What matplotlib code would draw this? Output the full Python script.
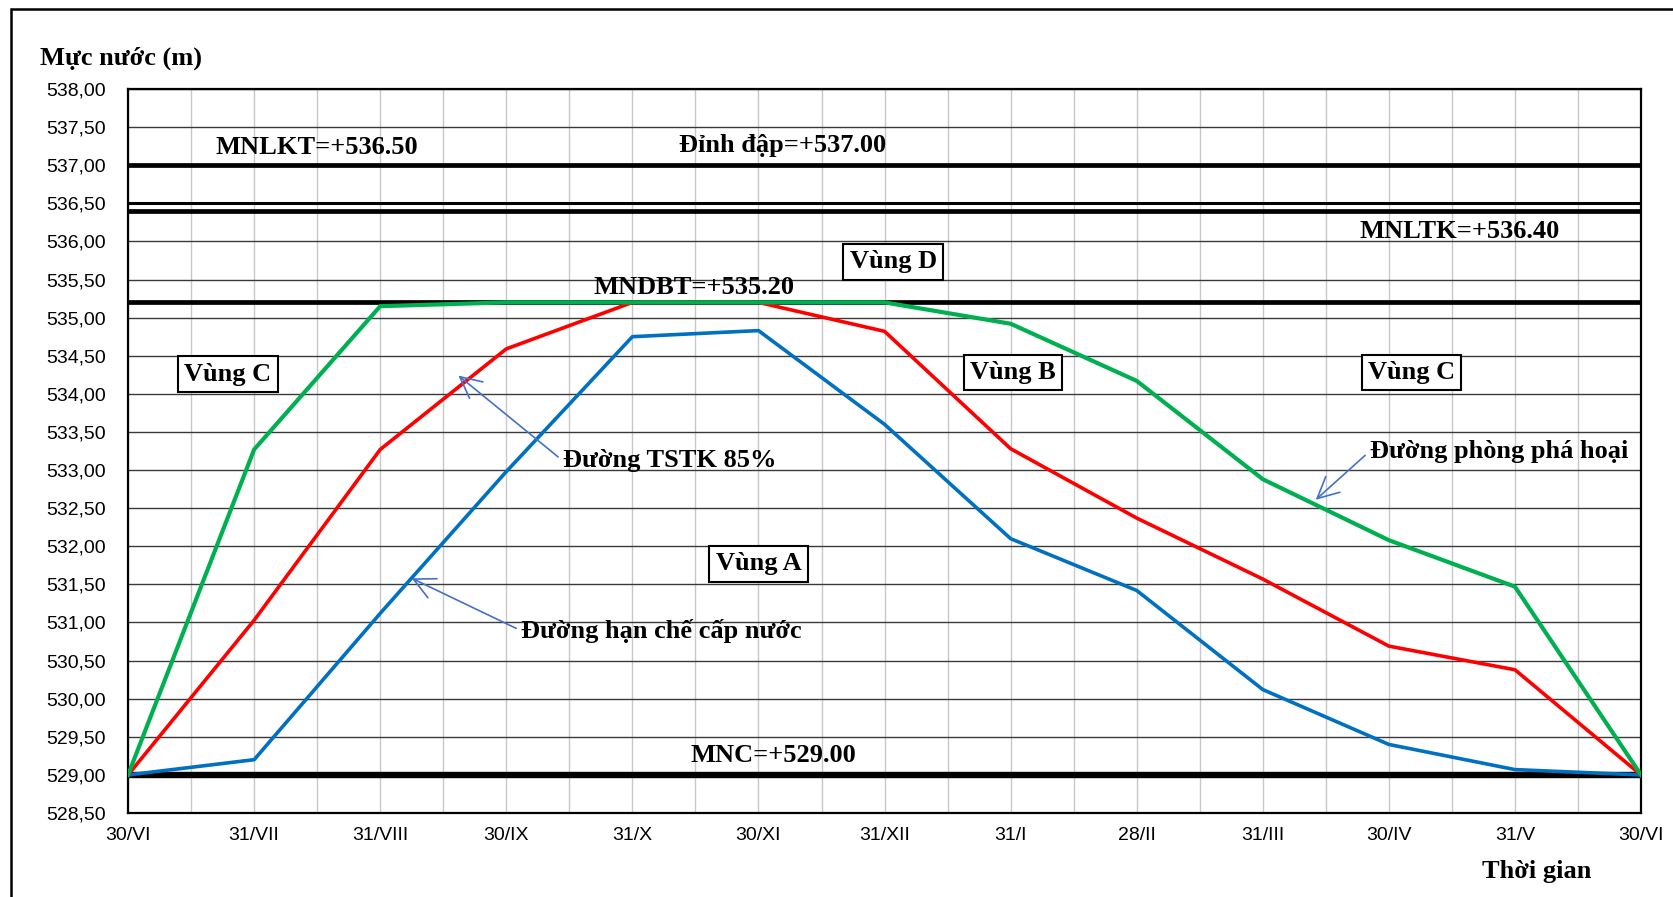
import matplotlib
matplotlib.use("Agg")
import matplotlib.pyplot as plt
from matplotlib.ticker import MultipleLocator, FuncFormatter
from matplotlib.patches import Rectangle

# ---------------- data ----------------
months = ['30/VI', '31/VII', '31/VIII', '30/IX', '31/X', '30/XI', '31/XII',
          '31/I', '28/II', '31/III', '30/IV', '31/V', '30/VI']
phong_pha_hoai = [529.00, 533.27, 535.15, 535.20, 535.20, 535.20, 535.20,
                  534.92, 534.17, 532.88, 532.08, 531.47, 529.00]
tstk_85 = [529.00, 531.03, 533.27, 534.59, 535.20, 535.20, 534.82,
           533.28, 532.37, 531.57, 530.69, 530.38, 529.00]
han_che = [529.00, 529.20, 531.12, 532.98, 534.75, 534.83, 533.60,
           532.10, 531.42, 530.12, 529.40, 529.07, 529.00]
levels = {'dinh_dap': 537.00, 'mnlkt': 536.50, 'mnltk': 536.40,
          'mndbt': 535.20, 'mnc': 529.00}

serif = ['Liberation Serif', 'DejaVu Serif']
sans = ['Liberation Sans', 'DejaVu Sans']

fig = plt.figure(figsize=(16.74, 8.97), dpi=100)
ax = fig.add_axes([0.0765, 0.0936, 0.9803 - 0.0765, 0.9008 - 0.0936])

x = list(range(len(months)))

# grid
ax.set_xlim(0, len(months) - 1)
ax.set_ylim(528.5, 538.0)
ax.xaxis.set_major_locator(MultipleLocator(1))
ax.xaxis.set_minor_locator(MultipleLocator(0.5))
ax.yaxis.set_major_locator(MultipleLocator(0.5))
ax.grid(axis='x', which='both', color='#c8c8c8', linewidth=1.0, zorder=0)
ax.grid(axis='y', which='major', color='#3a3a3a', linewidth=1.0, zorder=0)
ax.tick_params(axis='both', which='both', length=0)
ax.tick_params(axis='y', pad=16, labelsize=14)
ax.tick_params(axis='x', pad=10, labelsize=14)
ax.set_xticks(x)
ax.set_xticklabels(months, fontfamily=sans)
ax.yaxis.set_major_formatter(FuncFormatter(lambda v, p: f"{v:.2f}".replace('.', ',')))
for lab in ax.get_yticklabels():
    lab.set_fontfamily(sans)
for s in ax.spines.values():
    s.set_linewidth(1.6)
    s.set_color('black')

# reference levels
ax.axhline(levels['dinh_dap'], color='black', lw=3.4, zorder=2)
ax.axhline(levels['mnlkt'], color='black', lw=2.2, zorder=2)
ax.axhline(levels['mnltk'], color='black', lw=3.4, zorder=2)
ax.axhline(levels['mndbt'], color='black', lw=3.4, zorder=2)
ax.axhline(levels['mnc'], color='black', lw=4.6, zorder=2)

# curves
ax.plot(x, han_che, color='#0070C0', lw=2.6, zorder=3)
ax.plot(x, tstk_85, color='#FF0000', lw=2.6, zorder=3)
ax.plot(x, phong_pha_hoai, color='#00B050', lw=3.0, zorder=4)

tfs = 19
bold = dict(fontfamily=serif, fontweight='bold', fontsize=tfs, color='black', zorder=6)

ax.text(1.5, 537.23, 'MNLKT=+536.50', ha='center', va='center', **bold)
ax.text(5.19, 537.26, 'Đỉnh đập=+537.00', ha='center', va='center', **bold)
ax.text(10.56, 536.13, 'MNLTK=+536.40', ha='center', va='center', **bold)
ax.text(4.49, 535.39, 'MNDBT=+535.20', ha='center', va='center', **bold)
ax.text(5.12, 529.26, 'MNC=+529.00', ha='center', va='center', **bold)

box = dict(boxstyle='square,pad=0.24', facecolor='white', edgecolor='black', linewidth=1.5)
for (bx, by, t) in [(6.07, 535.73, 'Vùng D'), (0.79, 534.26, 'Vùng C'),
                    (7.02, 534.28, 'Vùng B'), (10.18, 534.28, 'Vùng C'),
                    (5.0, 531.77, 'Vùng A')]:
    ax.text(bx, by, t, ha='center', va='center', bbox=box, **bold)

arrow = dict(arrowstyle='->,head_length=0.8,head_width=0.4', color='#4472C4', lw=1.2,
             shrinkA=2, shrinkB=0, relpos=(0, 0.5))
ax.annotate('Đường TSTK 85%', xy=(2.62, 534.24), xytext=(3.45, 533.12),
            ha='left', va='center', arrowprops=arrow, **bold)
ax.annotate('Đường phòng phá hoại', xy=(9.42, 532.61), xytext=(9.85, 533.25),
            ha='left', va='center', arrowprops=arrow, **bold)
ax.annotate('Đường hạn chế cấp nước', xy=(2.25, 531.58), xytext=(3.12, 530.89),
            ha='left', va='center', arrowprops=arrow, **bold)

# axis titles
fig.text(0.024, 0.935, 'Mực nước (m)', ha='left', va='center',
         fontfamily=serif, fontweight='bold', fontsize=19)
fig.text(0.918, 0.028, 'Thời gian', ha='center', va='center',
         fontfamily=serif, fontweight='bold', fontsize=19)

# outer frame
fig.patches.append(Rectangle((11 / 1674, -0.1), 1.2, 1.1 - 9 / 897,
                             transform=fig.transFigure, fill=False,
                             edgecolor='black', linewidth=1.8))

fig.savefig('out.png', dpi=100)
